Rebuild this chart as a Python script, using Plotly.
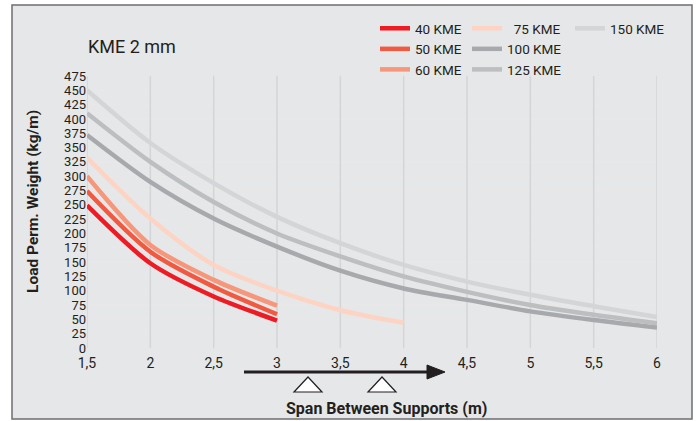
import plotly.graph_objects as go

# ---- data ----
span_short = [1.5, 2.0, 2.5, 3.0]
span_75 = [1.5, 2.0, 2.5, 3.0, 3.5, 4.0]
span_long = [1.5, 2.0, 2.5, 3.0, 3.5, 4.0, 4.5, 5.0, 5.5, 6.0]
x_ticks = [1.5, 2.0, 2.5, 3.0, 3.5, 4.0, 4.5, 5.0, 5.5, 6.0]
y_ticks = list(range(0, 476, 25))

kme40 = [249, 148, 90, 48]
kme50 = [274, 168, 107, 59]
kme60 = [300, 180, 119, 74]
kme75 = [332, 226, 145, 100, 66, 44]
kme100 = [372, 290, 226, 177, 135, 104, 84, 64, 49, 36]
kme125 = [410, 325, 255, 200, 160, 125, 98, 75, 58, 43]
kme150 = [450, 358, 288, 229, 183, 145, 116, 93, 73, 54]

series = [
    ("40 KME", span_short, kme40, "#ed1c24", "legend"),
    ("50 KME", span_short, kme50, "#f15a40", "legend"),
    ("60 KME", span_short, kme60, "#f6967a", "legend"),
    ("  75 KME", span_75, kme75, "#fdd4c3", "legend2"),
    ("100 KME", span_long, kme100, "#a7a9ac", "legend2"),
    ("125 KME", span_long, kme125, "#bcbec0", "legend2"),
    ("150 KME", span_long, kme150, "#d4d5d7", "legend3"),
]

# ---- geometry (pixels) ----
W, H = 698, 421
L, R, T, B = 87, 657, 76, 348


def px(xp):
    return (xp - L) / (R - L)


def py(yp):
    return (B - yp) / (B - T)


fig = go.Figure()
for name, xs, ys, col, lg in series:
    fig.add_trace(go.Scatter(
        x=xs, y=ys, name=name, mode="lines",
        line=dict(color=col, width=4.5, shape="spline", smoothing=0.8),
        legend=lg,
    ))

shapes = []
# outer panel
shapes.append(dict(type="rect", xref="paper", yref="paper",
                   x0=px(12), x1=px(692), y0=py(419), y1=py(5),
                   fillcolor="#e6e7e8", line=dict(color="#6d6e71", width=1.5),
                   layer="below"))
# horizontal grid lines, then vertical ones on top
for yv in y_ticks:
    shapes.append(dict(type="line", xref="paper", yref="y", x0=0, x1=1, y0=yv, y1=yv,
                       line=dict(color="#e8e8e9", width=1.5), layer="between"))
for xv in x_ticks:
    shapes.append(dict(type="line", xref="x", yref="paper", x0=xv, x1=xv, y0=0, y1=1,
                       line=dict(color="#d4d5d7", width=1.5), layer="between"))
# arrow shaft
shapes.append(dict(type="line", xref="paper", yref="paper",
                   x0=px(244), x1=px(430), y0=py(372), y1=py(372),
                   line=dict(color="#231f20", width=3)))
# arrow head
shapes.append(dict(type="path", xref="paper", yref="paper",
                   path=f"M {px(427)},{py(365)} L {px(445)},{py(372)} L {px(427)},{py(379)} Z",
                   fillcolor="#231f20", line=dict(color="#231f20", width=1)))
# support triangles
for cx in (308, 382):
    shapes.append(dict(type="path", xref="paper", yref="paper",
                       path=f"M {px(cx - 14)},{py(392)} L {px(cx)},{py(377)} L {px(cx + 14)},{py(392)} Z",
                       fillcolor="#ffffff", line=dict(color="#231f20", width=1.2)))

annotations = [
    dict(text="KME 2 mm", xref="paper", yref="paper", x=px(86), y=py(47),
         xanchor="left", yanchor="middle", showarrow=False,
         font=dict(family="Roboto", size=18, color="#231f20")),
    dict(text="<b>Span Between Supports (m)</b>", xref="paper", yref="paper",
         x=px(386), y=py(408), xanchor="center", yanchor="middle", showarrow=False,
         font=dict(family="Roboto", size=16, color="#231f20")),
    dict(text="<b>Load Perm. Weight (kg/m)</b>", xref="paper", yref="paper",
         x=px(33), y=py(202), xanchor="center", yanchor="middle", showarrow=False,
         textangle=-90, font=dict(family="Roboto", size=15.5, color="#231f20")),
]

leg_common = dict(
    bgcolor="rgba(0,0,0,0)", font=dict(family="Roboto", size=13.5, color="#231f20"),
    orientation="v", xref="paper", yref="paper", xanchor="left", yanchor="top",
    tracegroupgap=0, itemwidth=30,
)

fig.update_layout(
    width=W, height=H,
    margin=dict(l=L, r=W - R, t=T, b=H - B, pad=0),
    paper_bgcolor="#ffffff", plot_bgcolor="#ffffff",
    separators=",.",
    font=dict(family="Roboto", size=14, color="#231f20"),
    showlegend=True,
    legend=dict(x=px(375), y=py(13), **leg_common),
    legend2=dict(x=px(467), y=py(13), **leg_common),
    legend3=dict(x=px(570), y=py(13), **leg_common),
    xaxis=dict(range=[1.5, 6], tickvals=x_ticks,
               showgrid=False, ticklabelstandoff=5,
               zeroline=False, showline=False, ticks="", ticklen=0,
               tickfont=dict(family="Roboto", size=14, color="#231f20")),
    yaxis=dict(range=[0, 475], tickvals=y_ticks,
               showgrid=False,
               zeroline=False, showline=False, ticks="", ticklen=0,
               tickfont=dict(family="Roboto", size=13, color="#231f20")),
    shapes=shapes, annotations=annotations,
)

fig.write_html("out.html", config={"displayModeBar": False},
               post_script="document.body.style.margin='0';document.body.style.padding='0';")
